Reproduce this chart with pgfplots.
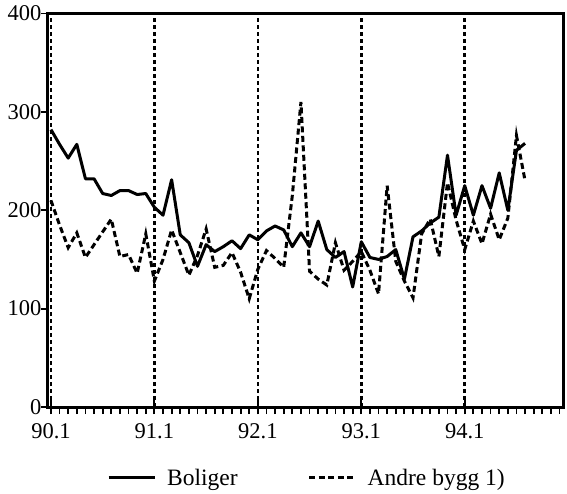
\documentclass[border=0pt]{standalone}
\usepackage{pgfplots}
\pgfplotsset{compat=1.18}
\usepackage{fontspec}
\setmainfont{Liberation Serif}
\begin{document}
\begin{tikzpicture}
\begin{axis}[
  name=ax, at={(0,0)}, anchor=south west,
  scale only axis, width=515.5pt, height=393.5pt,
  xmin=-0.4, xmax=59.4, ymin=0, ymax=400,
  axis line style={line width=3pt},
  /pgf/number format/assume math mode=true,
  tick label style={font=\fontsize{22.5}{26}\selectfont},
  xtick={0,12,24,36,48},
  xticklabels={90.1,91.1,92.1,93.1,94.1},
  xtick pos=bottom, ytick pos=left,
  xtick align=center,
  major tick length=14pt,
  every tick/.style={black, line width=1.8pt},
  ytick=\empty,
  extra y ticks={0,100,200,300,400},
  extra y tick style={grid=none, tick align=outside, major tick length=6pt,
    yticklabel style={inner sep=0pt, anchor=east}},
  extra x ticks={0,1,...,59},
  extra x tick labels={},
  extra x tick style={grid=none, tick align=outside, major tick length=7pt},
  xmajorgrids,
  major grid style={black, line width=2.6pt, dash pattern=on 4pt off 3pt},
  xticklabel style={inner sep=0pt, anchor=north, yshift=-9pt},
  legend columns=2,
  legend style={draw=none, fill=none, at={(0.1154,-0.18)}, anchor=west, inner sep=0pt,
    font=\fontsize{23.5}{27}\selectfont,
    /tikz/every even column/.append style={column sep=68pt}},
  legend image code/.code={\draw[#1] (0pt,0pt) -- (46pt,0pt); \path (55pt,0pt);},
]
\addplot[black, line width=3pt, line join=round] coordinates {
(0,282) (1,267) (2,253) (3,267) (4,232) (5,232) (6,217) (7,215) (8,220) (9,220)
(10,216) (11,217) (12,203) (13,195) (14,231) (15,175) (16,167) (17,143) (18,165) (19,158)
(20,163) (21,169) (22,161) (23,175) (24,170) (25,179) (26,184) (27,180) (28,163) (29,177)
(30,163) (31,189) (32,160) (33,152) (34,158) (35,122) (36,168) (37,152) (38,150) (39,153)
(40,160) (41,130) (42,173) (43,179) (44,187) (45,193) (46,256) (47,195) (48,225) (49,195)
(50,225) (51,202) (52,238) (53,200) (54,261) (55,268)
};
\addlegendentry{Boliger}
\addplot[black, line width=3pt, dash pattern=on 6pt off 3.5pt] coordinates {
(0,210) (1,185) (2,162) (3,177) (4,152) (5,165) (6,178) (7,191) (8,153) (9,155)
(10,136) (11,176) (12,128) (13,150) (14,180) (15,157) (16,134) (17,154) (18,181) (19,142)
(20,144) (21,157) (22,137) (23,110) (24,140) (25,159) (26,151) (27,142) (28,215) (29,310)
(30,138) (31,130) (32,124) (33,167) (34,139) (35,148) (36,158) (37,139) (38,115) (39,225)
(40,148) (41,128) (42,111) (43,176) (44,191) (45,153) (46,228) (47,190) (48,160) (49,189)
(50,166) (51,196) (52,170) (53,192) (54,276) (55,230)
};
\addlegendentry{Andre bygg 1)}
\end{axis}
\pgfresetboundingbox
\useasboundingbox (-47.5pt,-86pt) rectangle (519.5pt,407pt);
\end{tikzpicture}
\end{document}
